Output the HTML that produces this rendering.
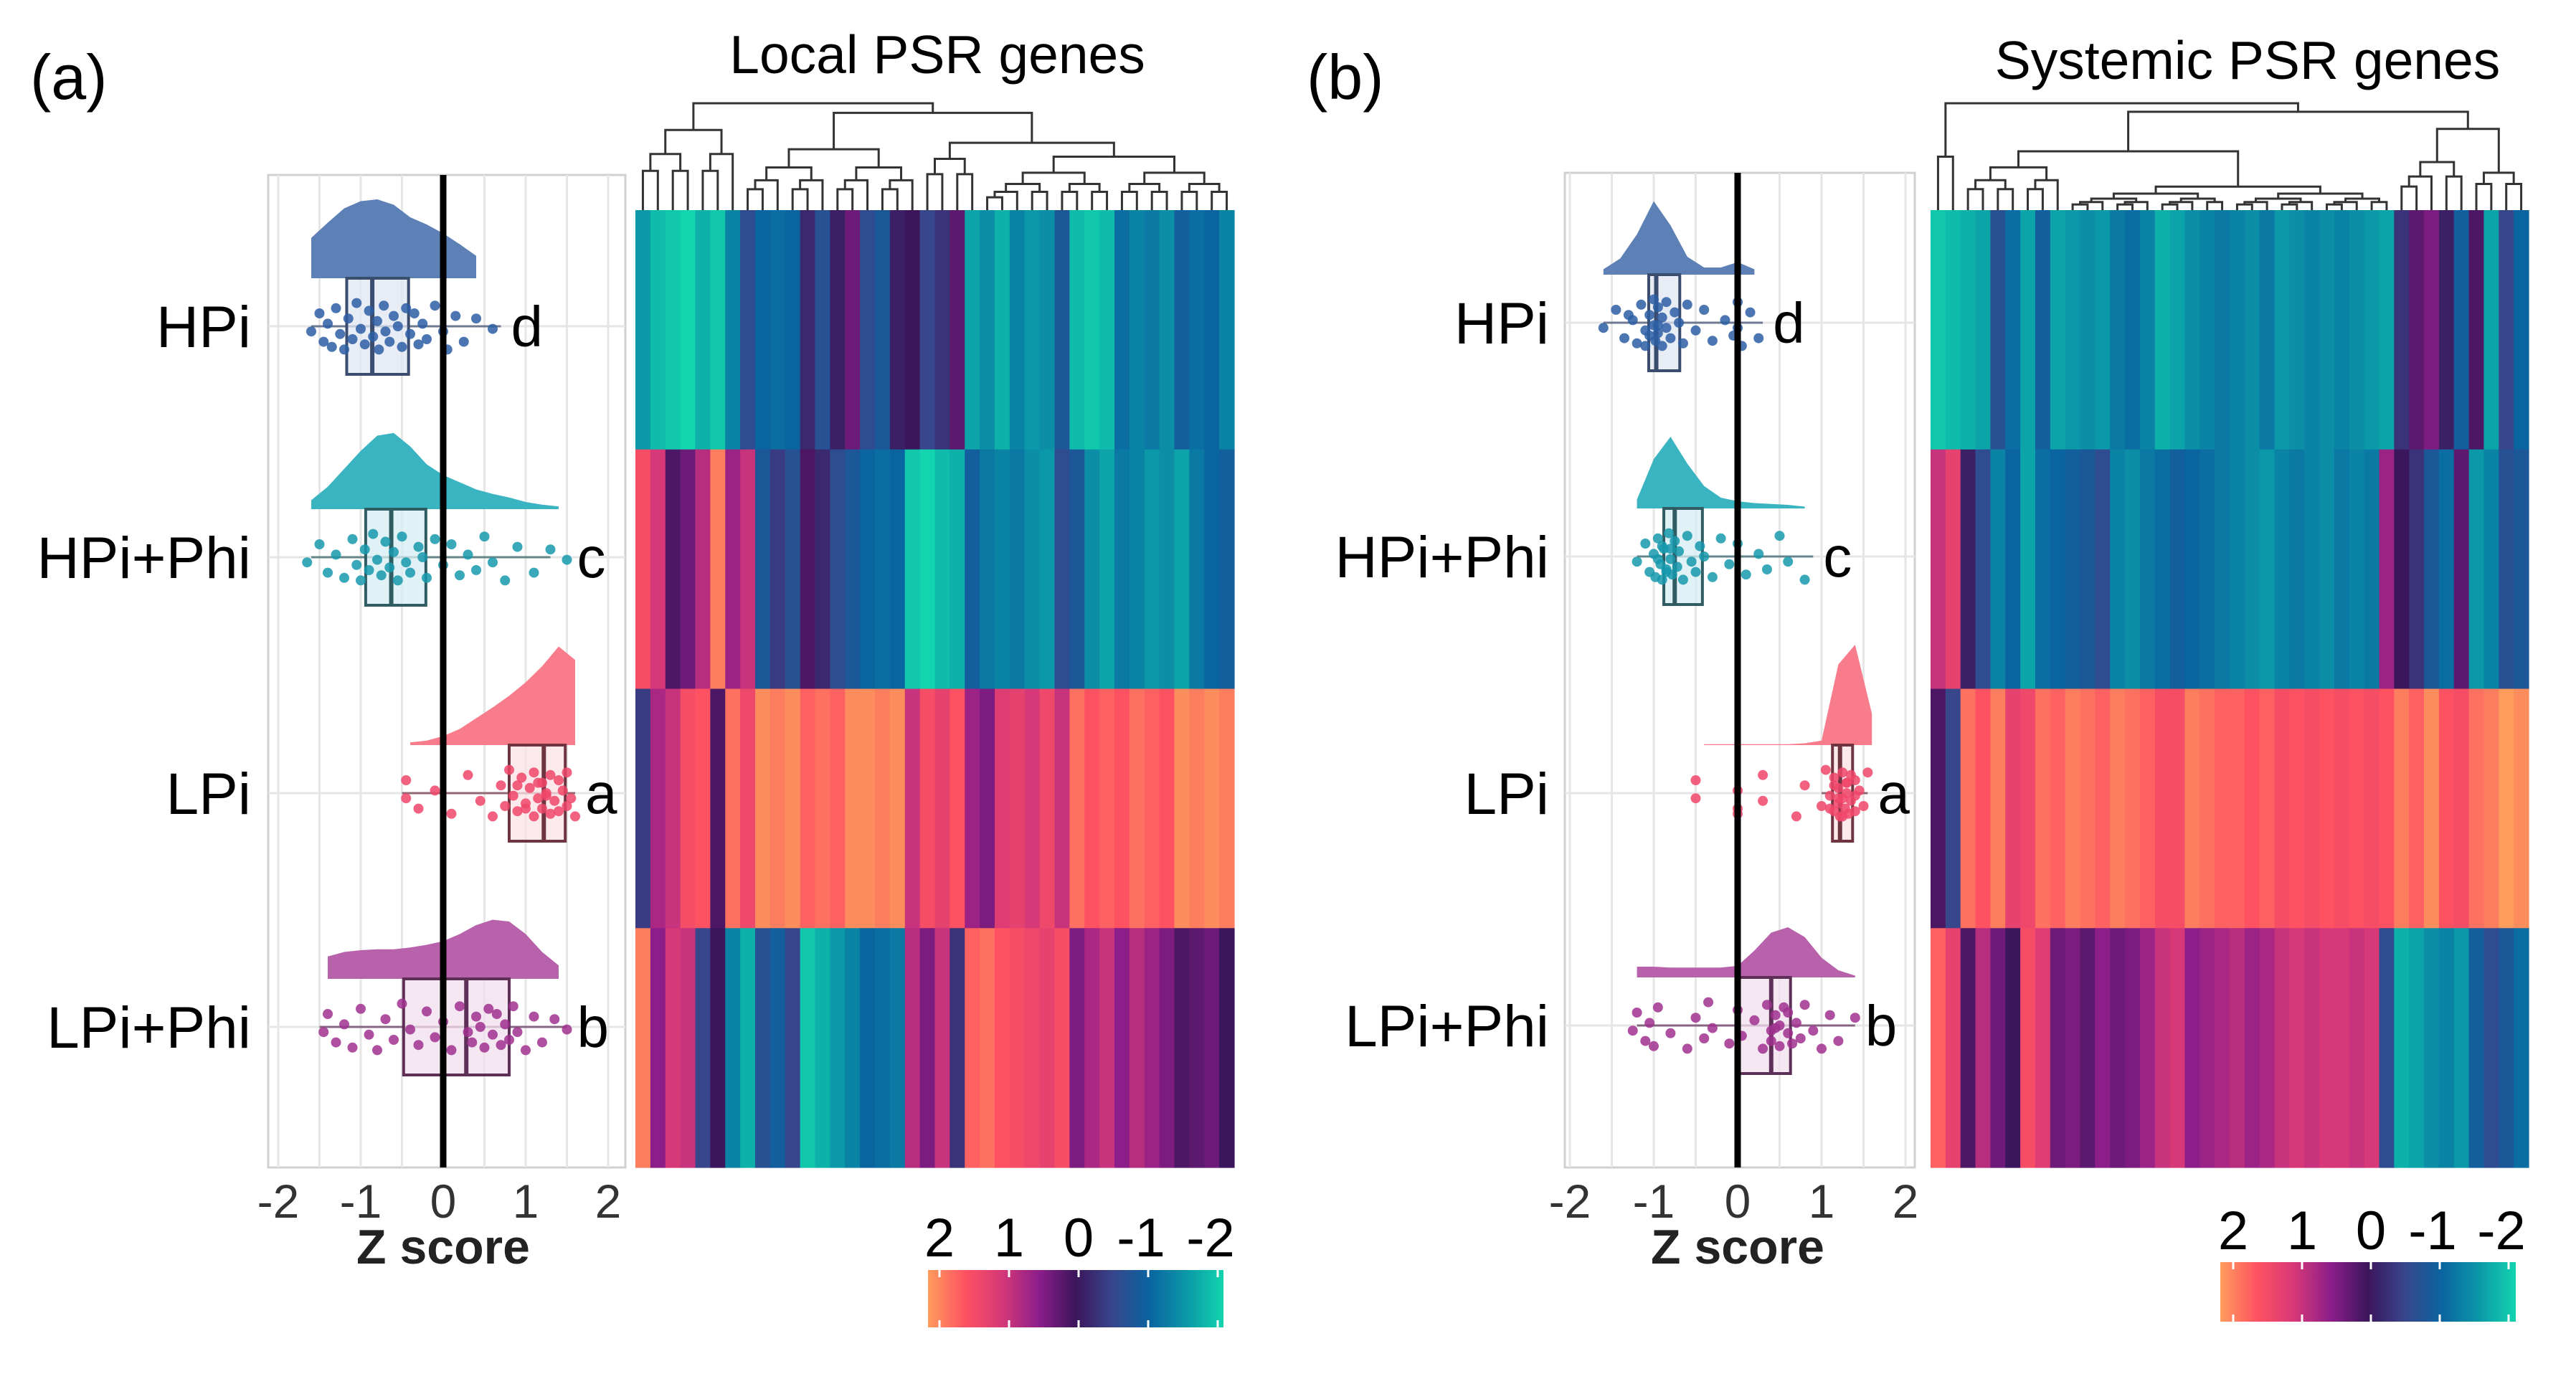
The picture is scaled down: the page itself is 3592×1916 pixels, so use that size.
<!DOCTYPE html>
<html><head><meta charset="utf-8"><style>
html,body{margin:0;padding:0;background:#fff;}
svg{display:block;font-family:"Liberation Sans",sans-serif;}
</style></head><body>
<svg id="fig" width="3592" height="1916" viewBox="0 0 3592 1916" xmlns="http://www.w3.org/2000/svg">
<rect width="3592" height="1916" fill="#fff"/>
<defs>
<linearGradient id="cbgrad" x1="0" x2="1" y1="0" y2="0"></linearGradient>
</defs>
<text x="42" y="138" font-size="88">(a)</text>
<text x="1822" y="138" font-size="88">(b)</text>
<text x="1307" y="102" font-size="75" text-anchor="middle">Local PSR genes</text>
<text x="3134" y="110" font-size="75" text-anchor="middle">Systemic PSR genes</text>
<g id="root"></g>
</svg>
<script>
// ---------- data ----------
const groups = ["HPi","HPi+Phi","LPi","LPi+Phi"];
const letters = ["d","c","a","b"];
const xTicks = [-2,-1,0,1,2];
const xTickLabels = ["-2","-1","0","1","2"];
const cbTicks = [2,1,0,-1,-2];
const cbTickLabels = ["2","1","0","-1","-2"];
const densX = [-2,-1.8,-1.6,-1.4,-1.2,-1.0,-0.8,-0.6,-0.4,-0.2,0,0.2,0.4,0.6,0.8,1.0,1.2,1.4,1.6,1.8,2.0];
// panel a densities
const densA_HPi   = [0,0,0.45,0.62,0.78,0.86,0.88,0.82,0.68,0.6,0.5,0.38,0.25,0,0,0,0,0,0,0,0];
const densA_HPiP  = [0,0,0.1,0.25,0.45,0.65,0.82,0.85,0.7,0.5,0.38,0.3,0.22,0.17,0.13,0.08,0.05,0.03,0,0,0];
const densA_LPi   = [0,0,0,0,0,0,0,0,0.03,0.05,0.1,0.18,0.3,0.42,0.55,0.7,0.88,1.1,0.95,0,0];
const densA_LPiP  = [0,0,0,0.25,0.3,0.32,0.33,0.33,0.35,0.38,0.42,0.5,0.6,0.66,0.64,0.5,0.3,0.15,0,0,0];
// panel b densities
const densB_HPi   = [0,0,0.06,0.18,0.45,0.82,0.55,0.2,0.08,0.08,0.14,0.06,0,0,0,0,0,0,0,0,0];
const densB_HPiP  = [0,0,0,0,0.1,0.55,0.8,0.5,0.25,0.12,0.08,0.06,0.05,0.04,0.02,0,0,0,0,0,0];
const densB_LPi   = [0,0,0,0,0,0,0,0,0.01,0.01,0.01,0.01,0.01,0.01,0.02,0.05,0.9,1.12,0.35,0,0];
const densB_LPiP  = [0,0,0,0,0.12,0.12,0.11,0.11,0.11,0.11,0.13,0.3,0.5,0.56,0.45,0.22,0.08,0.02,0,0,0];
// box stats [min, q1, median, q3, max]
const boxA_HPi  = [-1.6,-1.17,-0.86,-0.42,0.7];
const boxA_HPiP = [-1.6,-0.94,-0.63,-0.21,1.3];
const boxA_LPi  = [-0.5,0.8,1.22,1.48,1.6];
const boxA_LPiP = [-1.5,-0.48,0.28,0.8,1.5];
const boxB_HPi  = [-1.6,-1.06,-0.97,-0.69,0.3];
const boxB_HPiP = [-1.2,-0.88,-0.75,-0.42,0.9];
const boxB_LPi  = [1.0,1.13,1.22,1.37,1.55];
const boxB_LPiP = [-1.2,0.0,0.4,0.63,1.4];
// jittered points
const jitter = [0.2,-0.5,0.6,-0.1,0.8,-0.7,0.3,0.9,-0.3,0.5,-0.9,0.1,0.7,-0.6,0.4,-0.2,0.9,-0.8,0.2,0.6,-0.4,0.0,0.8,-0.7,0.3,-0.5,0.7,-0.1,0.5,-0.8,0.2,0.9,-0.4,0.6,-0.3,0.1];
const ptsA_HPi  = [-1.6,-1.5,-1.45,-1.4,-1.35,-1.3,-1.25,-1.2,-1.15,-1.1,-1.05,-1.0,-0.95,-0.9,-0.85,-0.8,-0.78,-0.72,-0.7,-0.65,-0.6,-0.55,-0.5,-0.45,-0.4,-0.35,-0.3,-0.25,-0.2,-0.1,0,0.05,0.15,0.25,0.4,0.6];
const ptsA_HPiP = [-1.65,-1.5,-1.4,-1.3,-1.2,-1.1,-1.05,-1.0,-0.95,-0.9,-0.85,-0.8,-0.75,-0.7,-0.65,-0.6,-0.55,-0.5,-0.45,-0.4,-0.3,-0.25,-0.2,-0.1,0,0.1,0.2,0.3,0.4,0.5,0.6,0.75,0.9,1.1,1.3,1.5];
const ptsA_LPi  = [-0.45,-0.45,-0.3,-0.1,0.1,0.3,0.45,0.6,0.7,0.75,0.8,0.85,0.9,0.95,1.0,1.05,1.1,1.1,1.15,1.2,1.2,1.25,1.3,1.3,1.35,1.4,1.4,1.45,1.5,1.5,1.55,1.6,1.15,1.0,0.9,1.25];
const ptsA_LPiP = [-1.45,-1.4,-1.3,-1.2,-1.1,-1.0,-0.9,-0.8,-0.7,-0.6,-0.5,-0.4,-0.3,-0.2,-0.1,0,0.1,0.2,0.3,0.35,0.4,0.45,0.5,0.55,0.6,0.65,0.7,0.75,0.8,0.85,0.9,1.0,1.1,1.2,1.35,1.5];
const ptsB_HPi  = [-1.6,-1.45,-1.35,-1.25,-1.2,-1.15,-1.1,-1.1,-1.05,-1.05,-1.0,-1.0,-0.98,-0.95,-0.95,-0.9,-0.9,-0.85,-0.85,-0.8,-0.75,-0.7,-0.65,-0.6,-0.5,-0.4,-0.3,-0.15,-0.05,0,0,0.05,0.15,0.25,-1.3,-0.95];
const ptsB_HPiP = [-1.2,-1.1,-1.05,-1.0,-0.98,-0.95,-0.92,-0.9,-0.88,-0.85,-0.82,-0.8,-0.78,-0.75,-0.72,-0.7,-0.65,-0.6,-0.55,-0.5,-0.45,-0.4,-0.3,-0.2,-0.1,0,0.1,0.25,0.35,0.5,0.6,0.8,-0.9,-0.85,-0.8,-0.95];
const ptsB_LPi  = [-0.5,-0.5,0,0,0,0.3,0.3,0.7,0.8,1.0,1.05,1.1,1.15,1.15,1.2,1.2,1.22,1.25,1.25,1.28,1.3,1.3,1.32,1.35,1.35,1.4,1.4,1.45,1.5,1.55,1.2,1.25,1.3,1.1,1.15,1.4];
const ptsB_LPiP = [-1.25,-1.2,-1.1,-1.05,-1.0,-0.95,-0.8,-0.6,-0.5,-0.4,-0.35,-0.3,-0.1,0,0.05,0.2,0.3,0.35,0.4,0.4,0.45,0.5,0.5,0.55,0.6,0.6,0.65,0.7,0.75,0.8,0.9,1.0,1.1,1.2,1.4,0.45];
// heatmap z-scores, 40 genes per row
const heatA_HPi  = [-1.5,-1.8,-1.9,-2,-1.7,-1.9,-1.3,-0.6,-1,-1.1,-1,-0.2,-0.7,-0.1,0.3,-0.6,-0.8,-0.1,0,-0.5,-0.3,0.2,-1.6,-1.4,-1.7,-1.3,-1.5,-1.4,-0.8,-1.8,-1.9,-1.8,-1.1,-1.3,-1.2,-1.4,-0.9,-1.1,-1.0,-1.3];
const heatA_HPiP = [1.4,1.0,0.1,0.3,0.8,1.8,0.6,0.9,-0.8,-0.4,-0.7,0.1,-0.2,-0.6,-0.8,-1.0,-1.1,-1.0,-1.9,-2,-1.8,-1.7,-0.9,-1.2,-1.3,-1.2,-1.4,-1.5,-0.6,-0.8,-1.4,-1.6,-1.2,-1.3,-1.5,-1.4,-1.6,-1.2,-1.0,-0.9];
const heatA_LPi  = [-0.4,0.7,0.9,1.4,1.5,0.1,1.7,1.3,1.9,1.8,1.9,1.6,1.7,1.6,1.9,1.9,1.8,1.9,0.9,1.4,1.2,1.5,0.6,0.4,1.1,1.2,1.0,1.3,0.9,1.7,1.5,1.6,1.5,1.7,1.6,1.5,1.9,1.8,1.9,1.8];
const heatA_LPiP = [1.8,0.5,1.0,0.9,-0.5,0,-1.3,-1.7,-0.7,-0.9,-0.5,-1.9,-1.7,-1.5,-1.3,-1.0,-1.1,-1.2,0.8,0.4,0.9,-0.3,1.6,1.7,1.5,1.4,1.3,1.2,1.4,0.4,0.7,0.9,0.5,0.8,0.6,0.4,0.1,0.2,0.3,0.0];
const heatB_HPi  = [-1.9,-1.8,-1.7,-1.6,-0.7,-1.1,-1.6,-0.9,-1.6,-1.5,-1.4,-1.5,-1.2,-1.1,-1.3,-1.7,-1.6,-1.4,-1.3,-1.2,-1.3,-1.4,-1.2,-1.5,-1.4,-1.3,-1.4,-1.3,-1.4,-1.5,-1.6,-0.3,0.2,0.4,-0.1,-0.9,0.1,-1.6,-0.5,-1.0];
const heatB_HPiP = [0.9,1.2,-0.1,-0.6,-1.3,-1.0,-1.6,-1.1,-1.0,-0.9,-0.8,-0.6,-1.3,-1.4,-1.2,-1.1,-0.9,-1.0,-1.1,-1.2,-1.3,-1.4,-1.5,-1.3,-1.2,-1.3,-1.4,-1.2,-1.3,-1.2,0.6,0.0,-0.3,-0.8,-1.1,0.2,-1.5,-1.3,-0.7,-0.8];
const heatB_LPi  = [0.1,-0.5,1.7,1.5,1.8,1.2,1.3,1.7,1.6,1.8,1.7,1.6,1.8,1.7,1.6,1.4,1.4,1.8,1.7,1.6,1.6,1.5,1.6,1.4,1.5,1.4,1.5,1.4,1.5,1.4,1.5,1.8,1.6,1.9,1.5,1.4,1.7,1.8,2.0,1.9];
const heatB_LPiP = [1.6,1.2,0.1,0.8,0.3,0.0,1.4,1.1,0.3,0.4,0.2,0.5,0.3,0.4,0.6,0.9,1.0,0.5,0.6,0.7,0.8,0.6,0.7,0.9,1.0,0.9,1.0,1.0,0.9,1.0,-0.6,-1.7,-1.6,-1.4,-1.3,-1.5,-0.9,-0.6,-0.8,-1.1];
// dendrograms: [height, lo, hi] = auto subtree over gene range; [height, child, child]
const treeA = [1.0,[0.75,0,6],[0.91,[0.57,7,18],[0.63,[0.48,19,22],[0.5,23,39]]]];
const treeB = [1.0,[0.5,0,1],[0.92,[0.55,[0.4,2,8],[0.22,9,30]],[0.76,[0.45,31,35],[0.35,36,39]]]];

// ---------- rendering ----------
const NS="http://www.w3.org/2000/svg";
const root=document.getElementById('root');
function mk(tag,attrs,parent){const e=document.createElementNS(NS,tag);for(const k in attrs)e.setAttribute(k,attrs[k]);(parent||root).appendChild(e);return e;}
const cStops=[[2,[253,156,92]],[1.5,[254,82,98]],[1,[214,56,120]],[0.5,[140,30,138]],[0,[60,22,92]],[-0.5,[56,70,140]],[-1,[10,100,160]],[-1.5,[11,152,168]],[-2,[18,212,174]]];
function zColor(z){z=Math.max(-2,Math.min(2,z));for(let i=0;i<cStops.length-1;i++){const a=cStops[i],b=cStops[i+1];if(z<=a[0]&&z>=b[0]){const t=(a[0]-z)/(a[0]-b[0]);const c=a[1].map((v,j)=>Math.round(v+(b[1][j]-v)*t));return `rgb(${c[0]},${c[1]},${c[2]})`;}}return 'rgb(0,0,0)';}
const grad=document.getElementById('cbgrad');
for(let i=0;i<=16;i++){const z=2-i*0.25;const s=document.createElementNS(NS,'stop');s.setAttribute('offset',(i/16));s.setAttribute('stop-color',zColor(z));grad.appendChild(s);}

const groupStyle=[
 {dens:"#5d80b6",pt:"#2d5ea5",box:"#dfe6f1",stroke:"#3a4d6e"},
 {dens:"#3ab4c0",pt:"#1699ad",box:"#d6eef1",stroke:"#2f5d63"},
 {dens:"#f97c8d",pt:"#f0466a",box:"#fbe1e6",stroke:"#6e3440"},
 {dens:"#b862ab",pt:"#a0308f",box:"#f1dfee",stroke:"#5e3058"}];

const panels=[
 {id:'a',px0:374,px1:872,py0:244,py1:1628,zeroX:618,unit:115,rows:[455,777,1106,1432],labelX:350,
  dens:[densA_HPi,densA_HPiP,densA_LPi,densA_LPiP],box:[boxA_HPi,boxA_HPiP,boxA_LPi,boxA_LPiP],pts:[ptsA_HPi,ptsA_HPiP,ptsA_LPi,ptsA_LPiP],
  hx0:886,hx1:1721,hy0:293,hy1:1628,heat:[heatA_HPi,heatA_HPiP,heatA_LPi,heatA_LPiP],tree:treeA,dTop:144,
  cbx0:1294,cbx1:1706,cby0:1771,cby1:1851,cbz2:1310,cbUnit:97,cbLabY:1752},
 {id:'b',px0:2182,px1:2670,py0:241,py1:1628,zeroX:2423,unit:117,rows:[450,776,1106,1430],labelX:2160,
  dens:[densB_HPi,densB_HPiP,densB_LPi,densB_LPiP],box:[boxB_HPi,boxB_HPiP,boxB_LPi,boxB_LPiP],pts:[ptsB_HPi,ptsB_HPiP,ptsB_LPi,ptsB_LPiP],
  hx0:2692,hx1:3526,hy0:293,hy1:1628,heat:[heatB_HPi,heatB_HPiP,heatB_LPi,heatB_LPiP],tree:treeB,dTop:144,
  cbx0:3096,cbx1:3508,cby0:1760,cby1:1843,cbz2:3114,cbUnit:96,cbLabY:1742}];

panels.forEach(P=>{
 const X=v=>P.zeroX+v*P.unit;
 const g=mk('g',{});
 
 
 const bg=mk('rect',{x:P.px0,y:P.py0,width:P.px1-P.px0,height:P.py1-P.py0,fill:'#fff',stroke:'#d0d0d0','stroke-width':3},g);
 
 
 for(let v=-2;v<=2.001;v+=0.5){const l=mk('line',{x1:X(v),x2:X(v),y1:P.py0,y2:P.py1,stroke:'#e6e6e6','stroke-width':3},g);
  
  }
 P.rows.forEach(cy=>{const l=mk('line',{x1:P.px0,x2:P.px1,y1:cy,y2:cy,stroke:'#e6e6e6','stroke-width':3},g);
  
  });
 groups.forEach((name,gi)=>{
  const cy=P.rows[gi], st=groupStyle[gi], base=cy-67;
  const gg=mk('g',{},g);
  
  
  const d=P.dens[gi];let pts=[];
  for(let i=0;i<d.length;i++){if(d[i]>0)pts.push([X(densX[i]),base-d[i]*125]);}
  if(pts.length){let s=`M${pts[0][0]},${base} `;pts.forEach(p=>s+=`L${p[0]},${p[1]} `);s+=`L${pts[pts.length-1][0]},${base} Z`;
   const pa=mk('path',{d:s,fill:st.dens},gg);
   
   }
  const b=P.box[gi];
  const wl=mk('line',{x1:X(b[0]),x2:X(b[4]),y1:cy,y2:cy,stroke:st.stroke,'stroke-width':3,opacity:0.7},gg);
  
  
  const br=mk('rect',{x:X(b[1]),y:base,width:X(b[3])-X(b[1]),height:134,fill:st.box,'fill-opacity':0.75,stroke:st.stroke,'stroke-width':4},gg);
  
  
  const md=mk('line',{x1:X(b[2]),x2:X(b[2]),y1:base,y2:base+134,stroke:st.stroke,'stroke-width':6},gg);
  
  
  P.pts[gi].forEach((v,k)=>{const c=mk('circle',{cx:X(v),cy:cy+jitter[k%jitter.length]*36,r:7,fill:st.pt,'fill-opacity':0.85},gg);
   
   });
  const mx=Math.max(...P.pts[gi],b[4]);
  const lt=mk('text',{x:X(mx)+14,y:cy+28,'font-size':80},gg);lt.textContent=letters[gi];
  
  
  const cl=mk('text',{x:P.labelX,y:cy+29,'font-size':82,'text-anchor':'end'},g);cl.textContent=name;
  
  
 });
 const zl=mk('line',{x1:X(0),x2:X(0),y1:P.py0,y2:P.py1,stroke:'#000','stroke-width':9},g);
 
 
 xTicks.forEach((t,i)=>{const tx=mk('text',{x:X(t),y:1698,'font-size':66,'text-anchor':'middle',fill:'#333'},g);tx.textContent=xTickLabels[i];
  
  });
 const xt=mk('text',{x:X(0),y:1762,'font-size':68,'font-weight':'bold','text-anchor':'middle',fill:'#222'},g);xt.textContent='Z score';
 
 

 const hg=mk('g',{});
 
 
 const n=P.heat[0].length, cw=(P.hx1-P.hx0)/n, rh=(P.hy1-P.hy0)/4;
 P.heat.forEach((row,ri)=>row.forEach((z,ci)=>{
  const r=mk('rect',{x:P.hx0+ci*cw,y:P.hy0+ri*rh,width:cw+0.6,height:rh+0.6,fill:zColor(z)},hg);
  
  }));
 const dg=mk('g',{stroke:'#333','stroke-width':3,fill:'none'});
 
 
 const H=h=>P.hy0-h*(P.hy0-P.dTop);
 function leafX(i){return P.hx0+(i+0.5)*cw;}
 function drawAuto(h,lo,hi){if(lo===hi)return{x:leafX(lo),h:0};const mid=Math.floor((lo+hi)/2);return join(h,drawAuto(h*0.7,lo,mid),drawAuto(h*0.7,mid+1,hi));}
 function join(h,a,b){const y=H(h);mk('path',{d:`M${a.x},${H(a.h)}V${y}H${b.x}V${H(b.h)}`},dg);return{x:(a.x+b.x)/2,h:h};}
 function draw(node){if(typeof node[1]==='number')return drawAuto(node[0],node[1],node[2]);return join(node[0],draw(node[1]),draw(node[2]));}
 draw(P.tree);
 const cb=mk('rect',{x:P.cbx0,y:P.cby0,width:P.cbx1-P.cbx0,height:P.cby1-P.cby0,fill:'url(#cbgrad)'});
 
 
 cbTicks.forEach((t,i)=>{const x=P.cbz2+(2-t)*P.cbUnit;
  const tk=mk('line',{x1:x,x2:x,y1:P.cby0,y2:P.cby0+10,stroke:'#fff','stroke-width':3});
  
  
  const tk2=mk('line',{x1:x,x2:x,y1:P.cby1-10,y2:P.cby1,stroke:'#fff','stroke-width':3});
  
  
  const tl=mk('text',{x:x-(t<0?10:0),y:P.cbLabY,'font-size':76,'text-anchor':'middle'});tl.textContent=cbTickLabels[i];
  
  });
});
</script>
</body></html>
